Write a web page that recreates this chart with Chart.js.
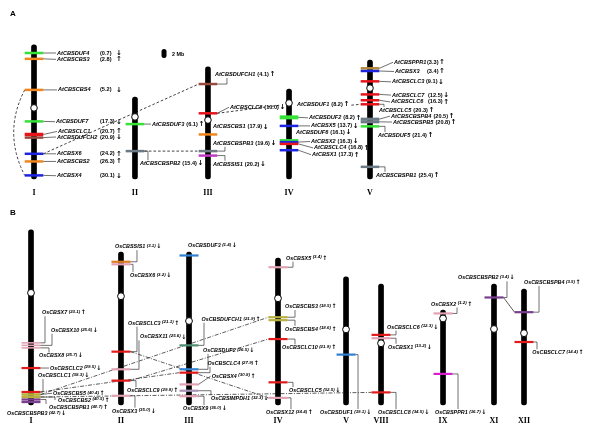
<!DOCTYPE html>
<html><head><meta charset="utf-8">
<script src="https://cdn.jsdelivr.net/npm/chart.js@4.4.1/dist/chart.umd.min.js"></script>
<style>html,body{margin:0;padding:0;background:#fff;overflow:hidden}canvas{display:block}</style>
</head><body>
<canvas id="c" width="600" height="436"></canvas>
<script>
// ================= DATA : panel A (Arabidopsis) =================
const A_CHROMS    = ['I','II','III','IV','V'];
const A_CHROM_LEN = [29.8, 18.2, 24.9, 20.0, 26.4];      // Mb (as drawn)
const A_CENTRO    = [14.0, 4.4, 11.8, 3.1, 6.2];          // Mb from top
const A_GENES = ['AtCBSDUF4','AtCBSCBS3','AtCBSCBS4','AtCBSDUF7','AtCBSCLC1','AtCBSDUFCH2','AtCBSX6','AtCBSCBS2','AtCBSX4',
  'AtCBSDUF3','AtCBSCBSPB2',
  'AtCBSDUFCH1','AtCBSCLC8','AtCBSCBS1','AtCBSCBSPB3','AtCBSSIS1',
  'AtCBSDUF1','AtCBSDUF2','AtCBSX5','AtCBSDUF6','AtCBSX2','AtCBSCLC4','AtCBSX1',
  'AtCBSPPR1','AtCBSX3','AtCBSCLC3','AtCBSCLC7','AtCBSCLC6','AtCBSCLC5','AtCBSCBSPB4','AtCBSCBSPB5','AtCBSDUF5','AtCBSCBSPB1'];
const A_GENE_CHR = [0,0,0,0,0,0,0,0,0, 1,1, 2,2,2,2,2, 3,3,3,3,3,3,3, 4,4,4,4,4,4,4,4,4,4];
const A_GENE_POS = [1.8,3.1,10.0,17.0,19.9,20.6,24.2,25.9,29.0, 6.0,12.0, 3.8,10.3,15.0,18.7,19.7,
  3.6,6.3,8.2,11.4,11.8,12.2,13.6, 1.8,2.4,4.7,7.6,8.9,9.8,13.1,13.7,14.7,23.7];
const A_GENE_VAL = ['0.7','2.8','5.2','17.3','20.7','20.9','24.2','26.3','30.1', '6.1','15.4',
  '4.1','10.0','17.9','19.6','20.2', '8.2','8.2','13.7','16.1','16.3','16.8','17.3',
  '3.3','3.4','9.1','12.5','16.3','20.3','20.5','20.8','21.4','25.4'];
const A_GENE_DIR = ['d','u','d','d','u','d','u','u','d', 'u','d', 'u','d','d','d','d',
  'u','u','d','d','d','u','u', 'u','u','d','d','u','u','u','u','u','u'];
const A_NO_BAND = ['AtCBSDUF1'];
const A_LINKS = [['AtCBSCBS4','AtCBSX4','arc'],['AtCBSX6','AtCBSDUFCH1'],['AtCBSCBSPB2','AtCBSCBSPB3'],
  ['AtCBSCLC8','AtCBSDUF1'],['AtCBSDUF1','AtCBSCLC5']];

// ================= DATA : panel B (rice) =================
const B_CHROMS    = ['I','II','III','IV','V','VIII','IX','XI','XII'];
const B_CHROM_LEN = [41.7, 36.4, 36.4, 35.0, 30.5, 28.8, 22.6, 28.8, 27.6];
const B_CENTRO    = [15.0, 10.5, 16.4, 9.6, 12.5, 14.1, 2.0, 10.7, 10.5];
const B_GENES = ['OsCBSX7','OsCBSX10','OsCBSX8','OsCBSCLC2','OsCBSCLC1','OsCBSCBS5','OsCBSCBS2','OsCBSCBSPB1','OsCBSCBSPB3',
  'OsCBSSIS1','OsCBSX6','OsCBSCLC3','OsCBSX11','OsCBSCLC9','OsCBSX3',
  'OsCBSDUF3','OsCBSDUFCH1','OsCBSDUF2','OsCBSCLC4','OsCBSX4','OsCBSIMPDH1','OsCBSX9',
  'OsCBSX5','OsCBSCBS3','OsCBSCBS4','OsCBSCLC10','OsCBSCLC5','OsCBSX12',
  'OsCBSDUF1', 'OsCBSCLC6','OsCBSX1','OsCBSCLC8', 'OsCBSX2','OsCBSPPR1', 'OsCBSCBSPB2', 'OsCBSCBSPB4','OsCBSCLC7'];
const B_GENE_CHR = [0,0,0,0,0,0,0,0,0, 1,1,1,1,1,1, 2,2,2,2,2,2,2, 3,3,3,3,3,3, 4, 5,5,5, 6,6, 7, 8,8];
const B_GENE_POS = [26.9,27.5,28.1,32.9,38.6,39.2,39.8,40.4,41.0, 2.3,2.9,23.7,27.9,30.6,34.2,
  0.8,22.2,27.9,28.7,31.5,33.0,34.3, 2.2,14.1,14.8,19.3,29.6,33.3, 18.5, 12.1,12.9,25.8, 0.8,15.2, 3.2, 5.5,12.6];
const B_GENE_VAL = ['23.1','25.6','25.7','29.5','38.3','40.4','40.5','40.7','42.7', '3.1','3.2','21.1','25.6','29.8','35.0',
  '1.4','21.9','26.5','27.9','30.8','32.3','36.0', '3.4','18.5','18.6','21.9','32.5','34.4', '19.1', '12.3','13.2','34.5',
  '1.2','16.7', '3.4', '3.5','14.4'];
const B_GENE_DIR = ['u','d','d','d','d','u','u','u','d', 'd','d','u','d','u','d', 'd','u','d','u','u','d','d',
  'u','u','u','u','d','u', 'd', 'd','d','d', 'u','d', 'd', 'u','u'];
const B_NO_BAND = [];
const B_LINKS = [['OsCBSCBS5','OsCBSCBS3'],['OsCBSCLC9','OsCBSCLC10'],['OsCBSCLC3','OsCBSX12'],
  ['OsCBSCBS2','OsCBSCLC8'],['OsCBSCLC1','OsCBSCLC4'],['OsCBSCBSPB2','OsCBSCBSPB4','solid']];

// ================= LAYOUT / STYLE =================
const A_COL_X = [1, 2.202, 3.071, 4.036, 5];          // column slots of chromosomes
const B_COL_X = [1, 2.46, 3.564, 5.008, 6.112, 6.68, 7.686, 8.513, 9];
const A_COLORS = {DUF:'#36e236', CBS:'#f0861e', CLC:'#e8141c', DUFCH:'#9a4a3c', X:'#1c24e0', CBSPB:'#6c7a86', SIS:'#c23cc4', PPR:'#b48a3a'};
const B_COLORS = {X:'#e2a2b4', CLC:'#e21a1a', CBS:'#b8b040', CBSPB:'#7a3e8e', SIS:'#e07a20', DUF:'#2f80d2', DUFCH:'#4e8e70', IMPDH:'#a893b6', PPR:'#d81ed0'};
const A_BAND_W = {AtCBSDUF2:4, AtCBSCLC1:3.4, AtCBSCBSPB4:3, AtCBSCBSPB5:3};
const B_BAND_W = {OsCBSX7:1.6, OsCBSX10:1.6, OsCBSX8:1.6, OsCBSCBS5:2.6, OsCBSCBS2:2.6};
// label layout: [dx from chromosome, dy from band, leader type, elbow dx, value dx, arrow dx]
const A_LABEL = {
  AtCBSDUF4:[23,0,'d',null,66,82], AtCBSCBS3:[23,0.5,'d',null,66,82], AtCBSCBS4:[24,0,'d',null,66,82],
  AtCBSDUF7:[22,0.3,'d',null,66,82], AtCBSCLC1:[24,-3,'d',null,66,82], AtCBSDUFCH2:[23,-0.6,'d',null,66,82],
  AtCBSX6:[23,0,'d',null,66,82], AtCBSCBS2:[23,0,'d',null,66,82], AtCBSX4:[23,0.3,'d',null,66,82],
  AtCBSDUF3:[17,0,'d'], AtCBSCBSPB2:[5,12.5,'e',13],
  AtCBSDUFCH1:[7,-9.5,'e',19], AtCBSCLC8:[22,-6,'d'], AtCBSCBS1:[5,-7.5,'n'], AtCBSCBSPB3:[5,-7.7,'e',17], AtCBSSIS1:[5,8.5,'e',17],
  AtCBSDUF1:[8,-0.7,'n'], AtCBSDUF2:[20,0.5,'d'], AtCBSX5:[22,0,'d'], AtCBSDUF6:[7,-8.2,'n'], AtCBSX2:[22,-0.6,'d'],
  AtCBSCLC4:[25,4,'d'], AtCBSX1:[23,4.5,'d'],
  AtCBSPPR1:[24,-6,'d',null,57], AtCBSX3:[25,0.5,'d',null,57], AtCBSCLC3:[22,0.5,'d',null,56], AtCBSCLC7:[22,0.7,'d',null,58],
  AtCBSCLC6:[21,1.7,'d',null,58], AtCBSCLC5:[9,6,'e',14], AtCBSCBSPB4:[21,-3,'d'], AtCBSCBSPB5:[23,0.2,'d'],
  AtCBSDUF5:[8,9,'e',15], AtCBSCBSPB1:[6,8.3,'e',15]
};
const B_LABEL = {
  OsCBSX7:[11,-30,'e',14], OsCBSX10:[20,-15,'e',21], OsCBSX8:[8,8,'e',18], OsCBSCLC2:[19,0,'d'], OsCBSCLC1:[7,-16.3,'e',12],
  OsCBSCBS5:[22,-1.2,'d'], OsCBSCBS2:[27,3,'e',24], OsCBSCBSPB1:[18,7.8,'e',15], OsCBSCBSPB3:[-24,11.5,'n'],
  OsCBSSIS1:[-6,-15,'e',16], OsCBSX6:[9,11,'e',12], OsCBSCLC3:[7,-28.4,'e',16], OsCBSX11:[19,-32.3,'e',18],
  OsCBSCLC9:[6,10,'e',15], OsCBSX3:[-9,15.3,'e',14],
  OsCBSDUF3:[-1,-9.8,'n'], OsCBSDUFCH1:[12.5,-26,'e',15], OsCBSDUF2:[14,-18.6,'e',19], OsCBSCLC4:[18.5,-9.2,'e',21],
  OsCBSX4:[22.7,-8.3,'d'], OsCBSIMPDH1:[22,7.8,'e',22], OsCBSX9:[-6,12.3,'e',15],
  OsCBSX5:[8,-9,'e',15], OsCBSCBS3:[7,-10.6,'e',17], OsCBSCBS4:[7,9,'e',17], OsCBSCLC10:[4,8.7,'e',17],
  OsCBSCLC5:[11,8.2,'e',15], OsCBSX12:[-12,14.8,'e',13],
  OsCBSDUF1:[-26,57.8,'e',12],
  OsCBSCLC6:[6,-7.7,'e',15], OsCBSX1:[7,9,'e',15], OsCBSCLC8:[-3,20.2,'e',15],
  OsCBSX2:[-12,-9.3,'e',14], OsCBSPPR1:[-8,38.5,'e',15],
  OsCBSCBSPB2:[-36,-19.6,'e',13],
  OsCBSCBSPB4:[0,-29.7,'e',15], OsCBSCLC7:[8.3,10.7,'e',13]
};
const A_PX = {scale:4.5, base:179, x0:34, step:84};     // px per Mb, baseline px, column px
const B_PX = {scale:4.2, base:405, x0:31, step:61.625};
const W = 600, H = 436;

// ================= BUILD =================
const fam = n => n.replace(/^(At|Os)CBS/, '').replace(/\d+$/, '');
function panel(id, chroms, len, cen, genes, chr, pos, val, dir, noBand, links, colX, colors, bandW, labels, px, opts) {
  return {id, chroms, len, cen, genes, chr, pos, val, dir, noBand, links, colX, colors, bandW, labels, px, ...opts,
          xId:'x'+id, yId:'y'+id};
}
const PA = panel('A', A_CHROMS, A_CHROM_LEN, A_CENTRO, A_GENES, A_GENE_CHR, A_GENE_POS, A_GENE_VAL, A_GENE_DIR, A_NO_BAND, A_LINKS,
  A_COL_X, A_COLORS, A_BAND_W, A_LABEL, A_PX,
  {nameFont:'italic bold 5.6px "Liberation Sans"', valFont:'bold 5.6px "Liberation Sans"', valRaise:0, valGap:2,
   arrowFont:'bold 7px "DejaVu Sans"', leader:'#111', leaderW:0.6, numY:193, half:9.3, bandDefault:2.5,
   linkColor:'#111', linkDash:[2.6,2], centR:3.3});
const PB = panel('B', B_CHROMS, B_CHROM_LEN, B_CENTRO, B_GENES, B_GENE_CHR, B_GENE_POS, B_GENE_VAL, B_GENE_DIR, B_NO_BAND, B_LINKS,
  B_COL_X, B_COLORS, B_BAND_W, B_LABEL, B_PX,
  {nameFont:'italic bold 5.4px "Liberation Sans"', valFont:'italic bold 4.4px "Liberation Sans"', valRaise:-1, valGap:1.5,
   arrowFont:'bold 6.2px "DejaVu Sans"', leader:'#333', leaderW:0.7, numY:421, half:9.5, bandDefault:2.2,
   linkColor:'#333', linkDash:[4,1.5,1,1.5], centR:3.4});

function datasetsFor(P, ord) {
  const chromBar = {type:'bar', xAxisID:P.xId, yAxisID:P.yId, order:ord+2, grouped:false,
    data: P.chroms.map((c,i)=>({x:P.colX[i], y:[0, P.len[i]]})),
    backgroundColor:'#000', barThickness:5, borderRadius:2.5, borderSkipped:false};
  const idx = P.genes.map((g,i)=>i).filter(i=>!P.noBand.includes(P.genes[i]));
  const bands = {type:'scatter', xAxisID:P.xId, yAxisID:P.yId, order:ord+1,
    data: idx.map(i=>({x:P.colX[P.chr[i]], y:P.len[P.chr[i]] - P.pos[i]})),
    pointStyle:'line', pointRadius:P.half, pointHoverRadius:P.half,
    pointBorderColor: idx.map(i=>P.colors[fam(P.genes[i])]),
    pointBorderWidth: idx.map(i=>P.bandW[P.genes[i]] || P.bandDefault), showLine:false};
  const cents = {type:'scatter', xAxisID:P.xId, yAxisID:P.yId, order:ord,
    data: P.chroms.map((c,i)=>({x:P.colX[i], y:P.len[i]-P.cen[i]})),
    pointStyle:'circle', pointRadius:P.centR, pointBackgroundColor:'#fff', pointBorderColor:'#000', pointBorderWidth:1};
  return [cents, bands, chromBar];
}

function geo(chart, P, i) {
  const xs = chart.scales[P.xId], ys = chart.scales[P.yId];
  const c = P.chr[i];
  return {cx: xs.getPixelForValue(P.colX[c]), by: ys.getPixelForValue(P.len[c] - P.pos[i])};
}
function labelGeom(ctx, chart, P, i) {
  const g = P.genes[i], L = P.labels[g]; const {cx, by} = geo(chart, P, i);
  const tx = cx + L[0], ty = by + L[1];
  ctx.font = P.nameFont; const nw = ctx.measureText(g).width;
  const vs = '(' + P.val[i] + ')';
  const vx = L[4] != null ? cx + L[4] : tx + nw + P.valGap;
  ctx.font = P.valFont; const vw = ctx.measureText(vs).width;
  const ax = L[5] != null ? cx + L[5] : vx + vw + 0.6;
  ctx.font = P.arrowFont; const aw = ctx.measureText('\u2191').width;
  return {cx, by, tx, ty, vx, vs, ax, end: ax + aw, L};
}

function drawLinks(ctx, chart, P) {
  ctx.save();
  ctx.strokeStyle = P.linkColor; ctx.lineWidth = 0.8;
  P.links.forEach(([a, b, kind]) => {
    const ia = P.genes.indexOf(a), ib = P.genes.indexOf(b);
    const A = geo(chart, P, ia), B = geo(chart, P, ib);
    ctx.setLineDash(kind === 'solid' ? [] : P.linkDash);
    ctx.beginPath();
    if (kind === 'arc') {
      const x = A.cx - P.half;
      ctx.moveTo(x, A.by);
      ctx.quadraticCurveTo(x - 22, (A.by + B.by) / 2, x, B.by);
    } else {
      let sx = A.cx + P.half;
      if (P.noBand.includes(a)) sx = labelGeom(ctx, chart, P, ia).end + 2;
      ctx.moveTo(sx, A.by);
      ctx.lineTo(B.cx - P.half, B.by);
    }
    ctx.stroke();
  });
  ctx.restore();
}

function drawLabels(ctx, chart, P) {
  ctx.save();
  ctx.textBaseline = 'middle'; ctx.textAlign = 'left';
  P.genes.forEach((g, i) => {
    if (!P.labels[g]) return;
    const G = labelGeom(ctx, chart, P, i); const L = G.L;
    const bx = G.cx + P.half;
    ctx.strokeStyle = P.leader; ctx.lineWidth = P.leaderW; ctx.setLineDash([]);
    ctx.beginPath();
    if (L[2] === 'd') { ctx.moveTo(bx, G.by); ctx.lineTo(G.tx - 1, G.ty); }
    else if (L[2] === 'e') {
      const ex = G.cx + L[3];
      const endY = Math.abs(G.ty - G.by) < 4 ? G.ty : G.ty + (G.by > G.ty ? 3.4 : -3.4);
      ctx.moveTo(bx, G.by); ctx.lineTo(ex, G.by); ctx.lineTo(ex, endY);
    }
    if (L[2] !== 'n') ctx.stroke();
    ctx.fillStyle = '#000';
    ctx.font = P.nameFont; ctx.fillText(g, G.tx, G.ty);
    ctx.font = P.valFont; ctx.fillText(G.vs, G.vx, G.ty + P.valRaise);
    ctx.font = P.arrowFont; ctx.fillText(P.dir[i] === 'u' ? '\u2191' : '\u2193', G.ax, G.ty);
  });
  // chromosome numerals
  const xs = chart.scales[P.xId];
  ctx.font = 'bold 8px "Liberation Serif"'; ctx.textAlign = 'center';
  P.chroms.forEach((c, i) => ctx.fillText(c, xs.getPixelForValue(P.colX[i]), P.numY));
  ctx.restore();
}

const SCALEBAR = {col:2.548, top:28.9, mb:2};
const deco = {
  id:'deco',
  beforeDatasetsDraw(chart) {
    const ctx = chart.ctx;
    drawLinks(ctx, chart, PA); drawLinks(ctx, chart, PB);
  },
  afterDatasetsDraw(chart) {
    const ctx = chart.ctx;
    drawLabels(ctx, chart, PA); drawLabels(ctx, chart, PB);
    ctx.save();
    ctx.fillStyle = '#000'; ctx.textBaseline = 'middle'; ctx.textAlign = 'left';
    ctx.font = 'bold 8px "Liberation Sans"';
    ctx.fillText('A', 10, 13.5); ctx.fillText('B', 10, 213);
    // 2 Mb scale bar (uses the panel A Mb scale)
    const xs = chart.scales.xA, ys = chart.scales.yA;
    const x = xs.getPixelForValue(SCALEBAR.col), y1 = ys.getPixelForValue(SCALEBAR.top), y2 = ys.getPixelForValue(SCALEBAR.top - SCALEBAR.mb);
    ctx.beginPath(); ctx.roundRect(x - 2.5, y1, 5, y2 - y1, 2.5); ctx.fill();
    ctx.font = 'bold 5.4px "Liberation Sans"'; ctx.fillText('2 Mb', x + 8, (y1 + y2) / 2 + 1);
    ctx.restore();
  }
};

function linScale(axis, min, max) {
  return {type:'linear', axis, display:false, min, max, bounds:'data', grace:0, offset:false,
          ticks:{display:false}, grid:{display:false, offset:false}};
}
const scales = {
  xA: linScale('x', 1 - A_PX.x0 / A_PX.step, 1 + (W - A_PX.x0) / A_PX.step),
  xB: linScale('x', 1 - B_PX.x0 / B_PX.step, 1 + (W - B_PX.x0) / B_PX.step),
  yA: linScale('y', (A_PX.base - H) / A_PX.scale, A_PX.base / A_PX.scale),
  yB: linScale('y', (B_PX.base - H) / B_PX.scale, B_PX.base / B_PX.scale)
};

new Chart(document.getElementById('c'), {
  type:'scatter',
  data:{datasets:[...datasetsFor(PA, 0), ...datasetsFor(PB, 0)]},
  options:{responsive:false, animation:false, devicePixelRatio:1, events:[],
    layout:{padding:0, autoPadding:false}, scales,
    plugins:{legend:{display:false}, tooltip:{enabled:false}}},
  plugins:[deco]
});
</script>
</body></html>
